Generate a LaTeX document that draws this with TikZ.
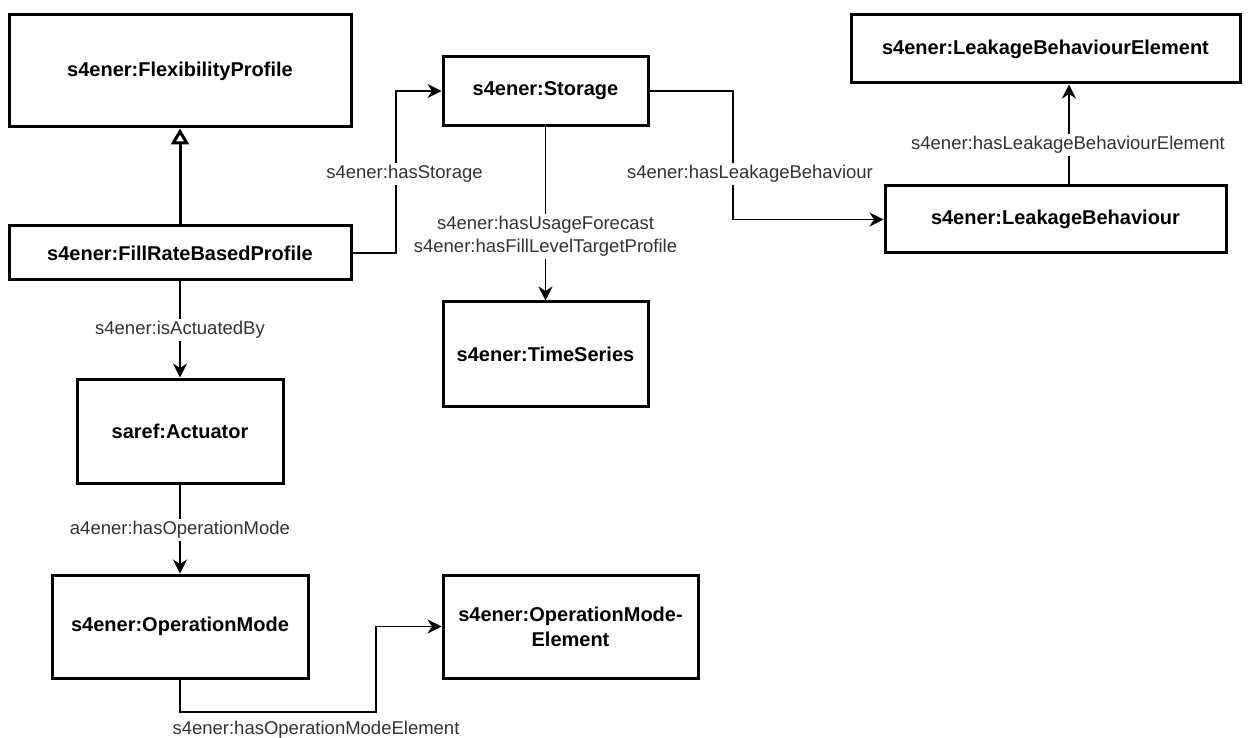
\documentclass[tikz,border=0pt]{standalone}
\usepackage{fontspec}
\setmainfont{Liberation Sans}
\usetikzlibrary{arrows.meta}
\definecolor{lblgray}{RGB}{51,51,51}
\begin{document}
\begin{tikzpicture}[x=1pt,y=-1pt,
  box/.style={draw, line width=3pt, rectangle, inner sep=0pt, align=center,
    font=\fontsize{20}{25}\selectfont\bfseries, text=black},
  conn/.style={line width=1.6pt, -{Stealth[length=14pt,width=14pt,inset=4.5pt]}},
  inherit/.style={line width=3pt, -{Triangle[open,length=16pt,width=18pt]}},
  lbl/.style={fill=white, inner sep=2pt, align=center, text=lblgray,
    font=\fontsize{18.5}{23}\selectfont}
]
\useasboundingbox (0,0) rectangle (1251,738);

% boxes
\node[box, minimum width=342pt, minimum height=112pt] (flex) at (180,71) {s4ener:FlexibilityProfile};
\node[box, minimum width=342pt, minimum height=54pt] (frbp) at (180,253) {s4ener:FillRateBasedProfile};
\node[box, minimum width=205pt, minimum height=69pt] (storage) at (545.5,91) {s4ener:Storage};
\node[box, minimum width=205pt, minimum height=104pt] (ts) at (545.5,354) {s4ener:TimeSeries};
\node[box, minimum width=389pt, minimum height=68pt] (lbe) at (1045.5,49) {s4ener:LeakageBehaviourElement};
\node[box, minimum width=341pt, minimum height=67pt] (lb) at (1055.5,219.5) {s4ener:LeakageBehaviour};
\node[box, minimum width=206pt, minimum height=104pt] (act) at (180,431) {saref:Actuator};
\node[box, minimum width=256pt, minimum height=103pt] (om) at (180,626.5) {s4ener:OperationMode};
\node[box, minimum width=255pt, minimum height=103pt] (ome) at (570.5,626.5) {s4ener:OperationMode-\\Element};

% helper coordinates
\coordinate (hsx) at (396,0);
\coordinate (hlx) at (733,0);
\coordinate (lbx) at (1069,0);
\coordinate (ombend) at (376,712);

% connectors
\draw[inherit] (frbp.north) -- (flex.south);
\draw[conn] (frbp.east) -- (frbp.east -| hsx) |- (storage.west);
\draw[conn] (storage.south) -- (ts.north);
\draw[conn] (storage.east) -- (storage.east -| hlx) |- (lb.west);
\draw[conn] (lb.north -| lbx) -- (lbe.south -| lbx);
\draw[conn] (frbp.south) -- (act.north);
\draw[conn] (act.south) -- (om.north);
\draw[conn] (om.south) |- (ombend) |- (ome.west);

% labels
\node[lbl] (l1) at (404.5,174) {s4ener:hasStorage};
\node[lbl] (l2) at (545.5,236.5) {s4ener:hasUsageForecast\\s4ener:hasFillLevelTargetProfile};
\node[lbl] (l3) at (750,174) {s4ener:hasLeakageBehaviour};
\node[lbl] (l4) at (1068,145) {s4ener:hasLeakageBehaviourElement};
\node[lbl] (l5) at (180,330) {s4ener:isActuatedBy};
\node[lbl] (l6) at (180,530) {a4ener:hasOperationMode};
\node[lbl] (l7) at (316,730) {s4ener:hasOperationModeElement};
\end{tikzpicture}
\end{document}
